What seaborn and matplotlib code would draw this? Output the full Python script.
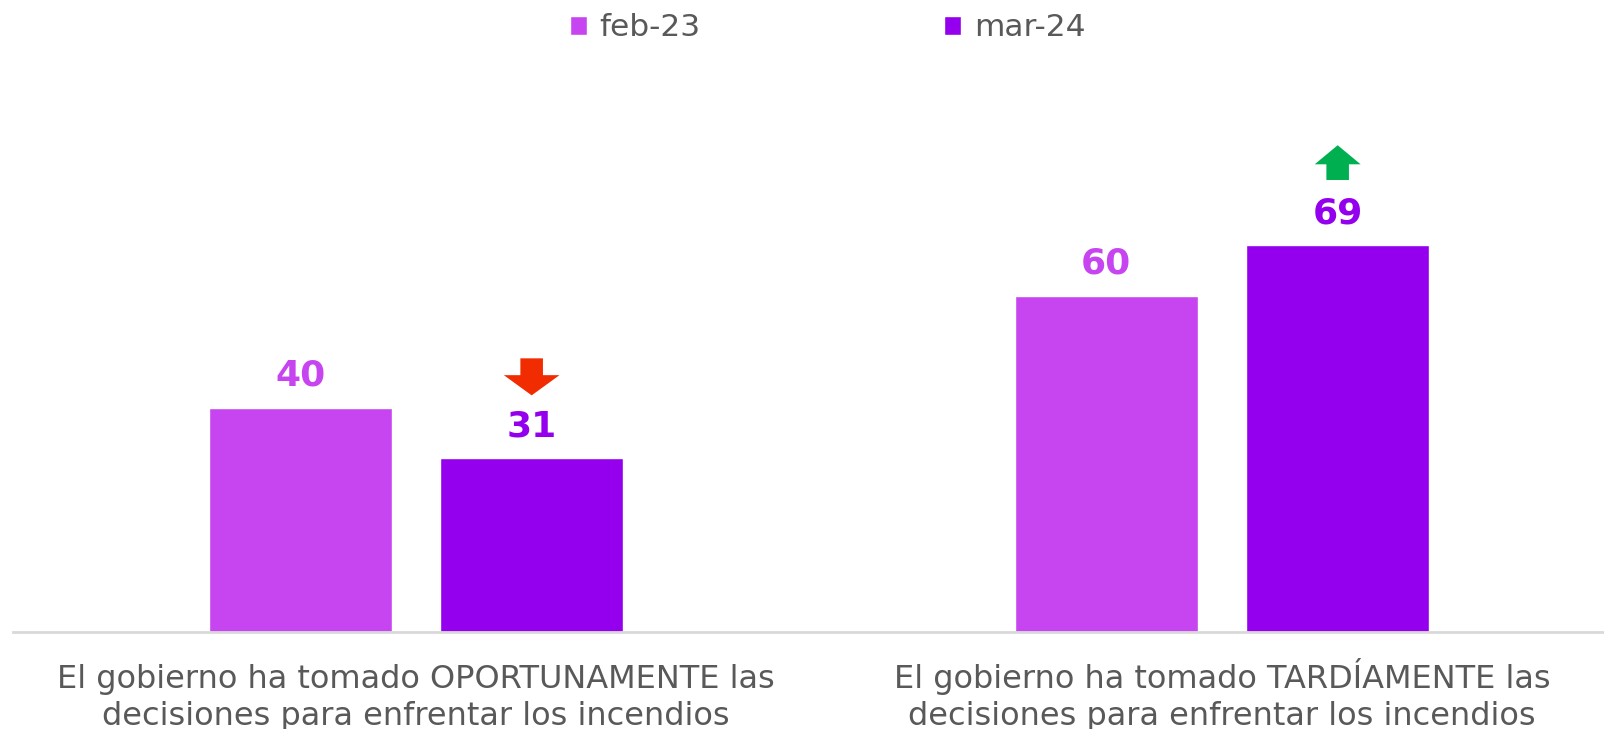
import matplotlib
matplotlib.use("Agg")
import matplotlib.pyplot as plt
import seaborn as sns
import pandas as pd
from matplotlib.patches import FancyArrow

categories = [
    "El gobierno ha tomado OPORTUNAMENTE las\ndecisiones para enfrentar los incendios",
    "El gobierno ha tomado TARDÍAMENTE las\ndecisiones para enfrentar los incendios",
]
periods = ["feb-23", "mar-24"]
feb_23 = [40, 60]
mar_24 = [31, 69]
# change vs previous wave: -1 down, +1 up
trend = [-1, 1]

colors = ["#C645F0", "#9400EE"]
text_gray = "#595959"

df = pd.DataFrame({
    "categoria": categories * 2,
    "periodo": [periods[0]] * 2 + [periods[1]] * 2,
    "valor": feb_23 + mar_24,
})

sns.set_theme(style="white")
plt.rcParams['font.family'] = ['DejaVu Sans']

fig = plt.figure(figsize=(16.04, 7.29), dpi=100)
ax = fig.add_axes([13 / 1604, 97 / 729, 1 - 13 / 1604, 572 / 729])

sns.barplot(data=df, x="categoria", y="valor", hue="periodo",
            palette=colors, saturation=1, width=0.574, gap=0.21, ax=ax, legend=True)

ax.set_ylim(0, 102)
ax.set_xlim(-0.5, -0.5 + 1591 / 806)
ax.set_xlabel("")
ax.set_ylabel("")
ax.set_yticks([])
for s in ["top", "right", "left"]:
    ax.spines[s].set_visible(False)
ax.spines["bottom"].set_color("#D9D9D9")
ax.spines["bottom"].set_linewidth(2)
ax.set_xticks(range(len(categories)))
ax.set_xticklabels([])
ax.tick_params(axis="x", length=0)

# category labels below the axis (baseline of last line)
for i, cat in enumerate(categories):
    ax.text(i, -0.162, cat, transform=ax.get_xaxis_transform(), ha="center",
            va="baseline", fontsize=23, color=text_gray, linespacing=1.25)

# value labels
for container, col in zip(ax.containers, colors):
    for bar in container:
        h = bar.get_height()
        ax.text(bar.get_x() + bar.get_width() / 2, h + 5.7, f"{h:.0f}",
                ha="center", va="center", fontsize=26, fontweight="bold", color=col)

# trend arrows over the latest wave
for bar, t in zip(ax.containers[1], trend):
    cx = bar.get_x() + bar.get_width() / 2
    h = bar.get_height()
    if t < 0:
        arr = FancyArrow(cx, h + 17.8, 0, -6.6, width=0.028, head_width=0.069,
                         head_length=3.6, length_includes_head=True,
                         color="#F02C00", linewidth=0)
    else:
        arr = FancyArrow(cx, h + 11.6, 0, 6.2, width=0.028, head_width=0.057,
                         head_length=3.4, length_includes_head=True,
                         color="#00B050", linewidth=0)
    ax.add_patch(arr)

leg = ax.legend(loc="center", bbox_to_anchor=(0.516, 0.962), bbox_transform=fig.transFigure,
                ncol=2, frameon=False, fontsize=22.5, handlelength=0.55, handleheight=0.55,
                handletextpad=0.4, columnspacing=7.8)
for t in leg.get_texts():
    t.set_color(text_gray)

fig.savefig("out.png", dpi=100)
plt.close()
